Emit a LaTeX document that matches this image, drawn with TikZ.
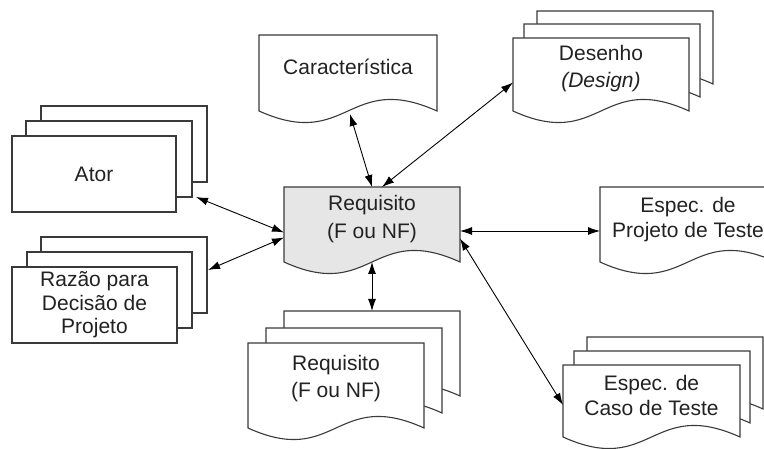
\documentclass[tikz,border=0pt]{standalone}
\usepackage{fontspec}
\setmainfont{Liberation Sans}
\usetikzlibrary{arrows.meta}

\definecolor{edge}{HTML}{3A3A3A}
\definecolor{reqfill}{HTML}{E6E6E6}
\definecolor{ink}{HTML}{222222}

\tikzset{
  shape line/.style={draw=edge, line width=1.1pt, line join=miter, fill=white},
  anchorbox/.style={rectangle, inner sep=0pt, outer sep=0pt, draw=none},
  label text/.style={text=ink, align=center, inner sep=0pt},
  link/.style={draw=black, line width=0.9pt,
    {Latex[length=12pt,width=8pt]}-{Latex[length=12pt,width=8pt]}},
}

% document sheet: left, top, width, height down to the wavy edge, extra options
\newcommand\docoutline[5]{%
  \path[shape line,#5] (#1,#2) -- ++(#3,0) -- ++(0,#4)
    .. controls +(-#3/2,-40) and +(#3/2,40) .. ++(-#3,0) -- cycle;}

% invisible box over the straight part of a sheet, used for anchors
\newcommand\boxnode[5]{%
  \node[anchorbox, minimum width=#4pt, minimum height=#5pt] (#1)
    at ({#2+#4/2},{#3+#5/2}) {};}

\newcommand\fs[1]{\fontsize{21}{#1}\selectfont}

\begin{document}
\begin{tikzpicture}[x=1pt,y=-1pt]
  \useasboundingbox (0,0) rectangle (764,449);
  \clip (0,0) rectangle (764,449);

  % Ator (stack of three cards)
  \draw[shape line] (41,106) rectangle ++(166,76);
  \draw[shape line] (26,121) rectangle ++(166,76);
  \draw[shape line] (12,136) rectangle ++(164,76);
  \boxnode{ator}{12}{136}{164}{76}
  \node[label text, font=\fs{26}] (ator-t) at (ator.center) {Ator};

  % Razao para Decisao de Projeto (stack of three cards)
  \draw[shape line] (41,237) rectangle ++(166,76);
  \draw[shape line] (27,252) rectangle ++(165,76);
  \draw[shape line] (12,267) rectangle ++(165,76);
  \boxnode{raz}{12}{267}{165}{76}
  \node[label text, font=\fs{23.5}] (raz-t) at (raz.center)
    {Razão para\\Decisão de\\Projeto};

  % Caracteristica (single sheet)
  \docoutline{259}{35}{178}{76}{}
  \boxnode{car}{259}{35}{178}{76}
  \node[label text, font=\fs{26}] (car-t) at ([yshift=6pt]car.center) {Característica};

  % Desenho (stack of three sheets)
  \docoutline{537}{11}{176}{73}{}
  \docoutline{524}{24}{176}{73}{}
  \docoutline{513}{38}{176}{73}{}
  \boxnode{des}{513}{38}{176}{73}
  \node[label text, font=\fs{27}] (des-t) at ([yshift=6pt]des.center)
    {Desenho\\\textit{(Design)}};

  % central Requisito (shaded sheet)
  \docoutline{284}{187}{176}{75}{fill=reqfill}
  \boxnode{req}{284}{187}{176}{75}
  \node[label text, font=\fs{28}] (req-t) at ([yshift=5.5pt]req.center)
    {Requisito\\(F ou NF)};

  % Espec. de Projeto de Teste (single sheet)
  \docoutline{600}{187}{176}{75}{}
  \boxnode{proj}{600}{187}{176}{75}
  \node[label text, font=\fs{25}] (proj-t) at ([yshift=5pt]proj.center)
    {Espec. de\\Projeto de Teste};

  % lower Requisito (stack of three sheets)
  \docoutline{284}{311}{176}{85}{}
  \docoutline{266}{328}{176}{85}{}
  \docoutline{248}{343}{176}{85}{}
  \boxnode{breq}{248}{343}{176}{85}
  \node[label text, font=\fs{27}] (breq-t) at ([yshift=7pt]breq.center)
    {Requisito\\(F ou NF)};

  % Espec. de Caso de Teste (stack of three sheets)
  \docoutline{587}{337}{176}{72}{}
  \docoutline{574}{351}{176}{72}{}
  \docoutline{563}{365}{177}{72}{}
  \boxnode{caso}{563}{365}{177}{72}
  \node[label text, font=\fs{25}] (caso-t) at ([yshift=5.5pt]caso.center)
    {Espec. de\\Caso de Teste};

  % two-way links
  \draw[link] (req.north) -- ([yshift=-3pt,xshift=2pt]car.south);
  \draw[link] ([xshift=10pt]req.north) -- ([yshift=-8pt]des.west);
  \draw[link] ([yshift=-8pt]req.west) -- ([shift={(20pt,15pt)}]ator.south east);
  \draw[link] ([yshift=-13pt]req.west) -- ([shift={(31pt,35pt)}]raz.east);
  \draw[link] ([yshift=-6.5pt]req.east) -- ([yshift=-6.5pt]proj.west);
  \draw[link] ([yshift=-14pt]req.east) -- ([yshift=-4pt]caso.west);
  \draw[link] (req.south) -- ([shift={(36pt,32pt)}]breq.north);
\end{tikzpicture}
\end{document}
